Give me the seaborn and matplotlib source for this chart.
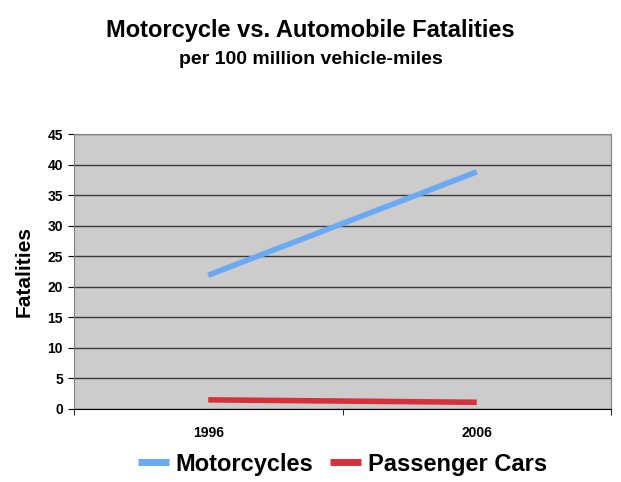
import pandas as pd
import seaborn as sns
import matplotlib.pyplot as plt

# Datos
years = ['1996', '2006']
motorcycles = [21.9, 38.8]
passenger_cars = [1.5, 1.1]
series = ['Motorcycles', 'Passenger Cars']
colors = ['#6aa9f4', '#d8303a']
yticks = list(range(0, 50, 5))

data = pd.DataFrame({
    'Year': years * 2,
    'Fatalities': motorcycles + passenger_cars,
    'Series': [series[0]] * 2 + [series[1]] * 2,
})

sns.set_style('white')
plt.rcParams['font.family'] = ['Liberation Sans', 'DejaVu Sans']
plt.rcParams['text.color'] = 'black'
plt.rcParams['axes.labelcolor'] = 'black'
plt.rcParams['xtick.color'] = 'black'
plt.rcParams['ytick.color'] = 'black'

fig = plt.figure(figsize=(6.21, 4.82), dpi=100)
ax = fig.add_axes([74 / 621, 1 - 409 / 482, 537 / 621, 275 / 482])

sns.lineplot(data=data, x='Year', y='Fatalities', hue='Series',
             palette=colors, linewidth=4, ax=ax, legend=True)
for ln in ax.get_lines():
    ln.set_solid_capstyle('butt')

ax.set_facecolor('#cccccc')
ax.set_xlim(-0.5, 1.5)
ax.set_ylim(0, 45)
ax.set_yticks(yticks)
ax.grid(axis='y', color='#3a3a3a', linewidth=1)
ax.grid(axis='x', visible=False)
ax.set_axisbelow(True)
for s in ax.spines.values():
    s.set_color('#808080')
ax.spines['bottom'].set_color('#000000')

ax.set_xticks([0, 1])
ax.set_xticks([-0.5, 0.5, 1.5], minor=True)
ax.tick_params(axis='x', which='major', length=0, pad=12)
ax.tick_params(axis='x', which='minor', length=4, color='black', bottom=True)
ax.tick_params(axis='y', length=4, color='black', left=True, pad=4)
for lab in ax.get_xticklabels() + ax.get_yticklabels():
    lab.set_fontweight('bold')
    lab.set_fontsize(10)

ax.set_xlabel('')
ax.set_ylabel('Fatalities', fontsize=15, fontweight='bold', labelpad=10)

handles, labels = ax.get_legend_handles_labels()
for h in handles:
    h.set_linewidth(5)
    h.set_solid_capstyle('butt')
ax.legend(handles, labels, loc='center', bbox_to_anchor=(0.5, -0.2),
          ncol=2, frameon=False, handlelength=1.3, columnspacing=0.7,
          handletextpad=0.3, prop={'weight': 'bold', 'size': 17})

fig.text(0.5, 1 - 31 / 482, 'Motorcycle vs. Automobile Fatalities',
         ha='center', va='center', fontsize=17, fontweight='bold')
fig.text(0.5, 1 - 60 / 482, 'per 100 million vehicle-miles',
         ha='center', va='center', fontsize=14, fontweight='bold')

plt.savefig('out.png', dpi=100)
